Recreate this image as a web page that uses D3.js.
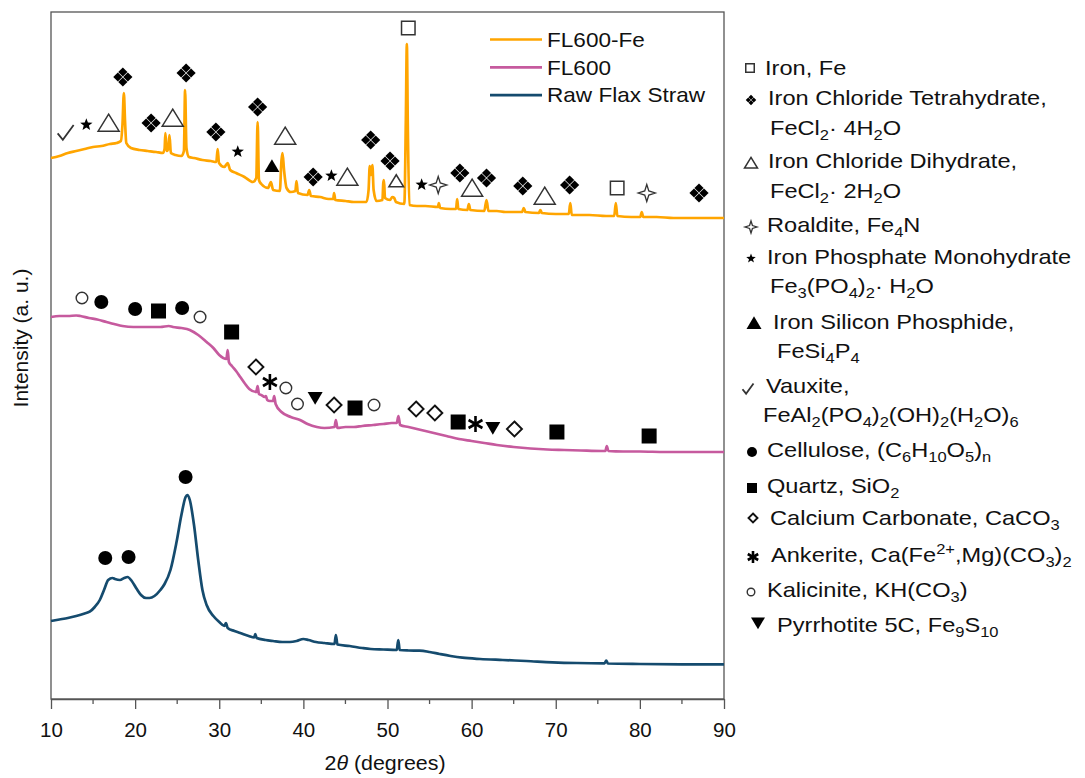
<!DOCTYPE html>
<html>
<head>
<meta charset="utf-8">
<script src="https://cdn.jsdelivr.net/npm/d3@7"></script>
<style>
  body { margin: 0; background: #fff; }
  text { font-family: "Liberation Sans", Arial, sans-serif; fill: #111; }
</style>
</head>
<body>
<div id="chart"></div>
<script>
// ---- data: [2theta, intensity (a.u., stacked)] ----
var fl600Fe = [[10.0,541],[11.0,543],[12.0,546],[13.0,548],[14.0,550],[15.0,552],[16.0,553],[17.0,555],[17.8,556],[18.3,558],[18.5,575],[18.66,606],[18.8,578],[18.95,556],[19.5,551],[20.5,549],[21.5,548],[22.5,547],[23.3,546],[23.5,550],[23.6,566],[23.75,548],[23.95,550],[24.08,564],[24.25,546],[24.8,544],[25.5,543],[25.8,548],[25.94,609],[26.1,551],[26.4,542],[27,541],[28,539],[29,538],[29.65,537],[29.81,550],[29.97,536],[30.6,532],[31.0,536],[31.3,529],[32,526],[33,522],[34.0,517],[34.4,521],[34.56,577],[34.72,519],[35,515],[35.8,511],[36.14,517],[36.4,509],[37.2,508],[37.4,539],[37.52,546],[37.7,529],[38,511],[38.5,507],[39.05,508],[39.18,518],[39.35,506],[40.5,504],[40.69,509],[40.9,503],[42,502],[43,500],[43.55,500],[43.65,506],[43.8,499],[45,498],[46,497],[47.5,497],[47.75,509],[47.89,533],[48.05,524],[48.2,534],[48.35,509],[48.7,498],[49.4,499],[49.5,516],[49.58,519],[49.7,501],[50.3,499],[50.57,502],[50.8,501],[51.0,497],[52.0,495],[52.18,579],[52.3,655],[52.42,569],[52.6,494],[53.5,493],[54.5,493],[56.0,492],[56.1,496],[56.25,491],[57.5,490],[58.15,490],[58.28,500],[58.42,490],[59.5,489],[59.67,495],[59.85,489],[61.5,488],[61.77,499],[62.0,488],[63,488],[64,487],[66.0,487],[66.19,491],[66.4,487],[68.0,486],[68.17,489],[68.35,486],[70,485],[71.55,485],[71.73,496],[71.9,484],[74,484],[76,483],[76.95,483],[77.14,496],[77.32,483],[79,482],[80.05,482],[80.22,487],[80.4,482],[82,482],[84,481],[86,481],[88,481],[90,481]];

var fl600 = [[10.0,382],[11.0,383],[12.0,383],[13.0,383.5],[13.5,383],[14.5,381],[15.5,379.5],[16.6,377],[17.5,375],[18.5,373],[19.8,372],[21,372],[22,372],[23,372],[24.0,373],[24.5,372],[25.5,371],[26.5,369],[27.5,364],[28.5,357],[29.3,351],[30.0,344],[30.85,340],[31.0,349],[31.15,337],[31.5,333],[32.0,328],[32.5,322],[33.0,316],[33.57,310],[34.4,307],[34.56,313],[34.72,305],[35.0,304],[35.4,302],[35.55,303],[35.7,299],[36.0,298],[36.4,298],[36.53,303],[36.7,295],[37.4,287],[38.5,282],[39.6,279],[40.5,275],[41.6,272],[42.5,271],[43.7,272],[43.86,279],[44.05,271],[45,272],[46,272],[47,273],[48.3,274],[49.5,275],[50.5,276],[51.1,276],[51.3,283],[51.5,274],[52.5,272],[54,269],[55.5,266],[57,263],[58.5,260],[60,258],[61.5,256],[63,254],[65,252],[67,250.5],[69,249.5],[71,249],[73,248.5],[75.5,248],[75.9,248],[76.07,253],[76.25,248],[78,247.5],[80,247.5],[83,247],[86,247],[90,247]];

var rawFlax = [[10.0,78],[11.0,79.5],[12.0,81],[13.0,83],[14.0,85.5],[14.6,87.3],[15.2,92],[15.8,99],[16.3,109],[16.8,119],[17.3,121],[17.6,120],[18.2,119],[18.7,121],[19.1,122],[19.6,118],[20.2,110],[20.7,104],[21.3,101],[21.7,101],[22.3,103],[23.0,109],[23.5,115],[24.2,129],[24.9,156],[25.5,184],[26.0,202],[26.2,204],[26.5,199],[27.0,174],[27.5,139],[28.0,109],[28.5,94],[29.3,83],[30.0,77],[30.6,73],[30.8,76],[31.0,71],[31.8,68],[32.5,66],[33.5,63],[34.15,61.5],[34.28,65],[34.45,61],[35.5,59],[36.4,58],[37.5,57],[38.4,57],[39.2,58],[40.0,60],[40.6,59],[41.5,57],[42.5,56],[43.7,55],[43.86,64],[44.05,54.5],[45.5,53],[47,51],[48,50],[49.5,49.5],[51.1,49],[51.28,59],[51.45,49],[52.5,48.5],[53.8,48.3],[55,47],[56.2,45],[57.5,43],[58.9,41.3],[61,40],[63.7,39],[66.5,38],[69.6,36.7],[72.5,36],[75.8,35.7],[76.0,38.3],[76.2,35.5],[80,35],[85,34.7],[90,34.7]];

var seriesNames = ["FL600-Fe", "FL600", "Raw Flax Straw"];
var seriesData = [fl600Fe, fl600, rawFlax];

// phase labels: [2theta, intensity, phase index]
var fl600FeMarks = [[11.74,566,6],[14.2,575,4],[16.85,576,2],[18.54,622,1],[21.9,576,1],[24.47,581,2],[26.06,626,1],[29.6,567,1],[32.2,548,4],[34.56,592,1],[36.26,533,5],[37.84,563,2],[41.16,522,1],[43.33,524,4],[45.23,522,2],[48.0,559,1],[50.3,538,1],[51.04,518,2],[52.47,671,0],[54.06,515,4],[56.03,514,3],[58.6,526,1],[60.06,511,2],[61.77,521,1],[66.08,513,1],[68.69,503,2],[71.65,514,1],[77.3,511,0],[80.82,506,3],[87.03,506,1]];
var fl600Marks = [[13.68,401,11],[15.98,397,7],[20.0,390,7],[22.78,388,8],[25.59,391,7],[27.72,382,11],[31.47,367,8],[34.36,332,9],[36.02,317,10],[37.92,311,11],[39.3,295,11],[41.4,301,12],[43.65,294,9],[46.14,291,8],[48.4,294,11],[53.4,290,9],[55.63,286,9],[58.4,277,8],[60.46,275,10],[62.52,271,12],[65.09,270,9],[70.14,267,8],[81.1,263,8]];
var rawFlaxMarks = [[16.45,141,7],[19.22,142,7],[26.0,222,7]];

var phaseNames = [
  ["Iron, Fe"],
  ["Iron Chloride Tetrahydrate,", "FeCl_{2}\u00b7 4H_{2}O"],
  ["Iron Chloride Dihydrate,", "FeCl_{2}\u00b7 2H_{2}O"],
  ["Roaldite, Fe_{4}N"],
  ["Iron Phosphate Monohydrate", "Fe_{3}(PO_{4})_{2}\u00b7 H_{2}O"],
  ["Iron Silicon Phosphide,", "FeSi_{4}P_{4}"],
  ["Vauxite,", "FeAl_{2}(PO_{4})_{2}(OH)_{2}(H_{2}O)_{6}"],
  ["Cellulose, (C_{6}H_{10}O_{5})_{n}"],
  ["Quartz, SiO_{2}"],
  ["Calcium Carbonate, CaCO_{3}"],
  ["Ankerite, Ca(Fe^{2+},Mg)(CO_{3})_{2}"],
  ["Kalicinite, KH(CO_{3})"],
  ["Pyrrhotite 5C, Fe_{9}S_{10}"]
];

var xTicks = [10, 20, 30, 40, 50, 60, 70, 80, 90];
var xMinorTicks = [15, 25, 35, 45, 55, 65, 75, 85];

// ---- styles / layout ----
var colors = ["#FFA500", "#C65A9E", "#154B6E"];
var phaseSymbols = ["sqOpen","quad","triOpen","sparkle","star","triFill","check","circle","square","diamond","asterisk","circleOpen","triDown"];
var plotSize = {sqOpen:15, quad:20, triOpen:21, sparkle:17, star:13, triFill:15, check:16, circle:14, square:15, diamond:17, asterisk:16, circleOpen:13, triDown:15};
var keySize = {sqOpen:10, quad:11, triOpen:13, sparkle:12, star:10, triFill:15, check:11, circle:10, square:10, diamond:11, asterisk:12, circleOpen:9, triDown:14};

// right-hand key layout (pixels)
var keySymX = [750,751,751,751,751,754,748,752,752,753,753,751,758];
var keySymY = [68,100,163,227,258,323,389,452,488,518,557,592,623];
var keyTextX = [[765],[768,770],[768,770],[767],[767,770],[773,777],[766,763],[767],[767],[770],[771],[767],[777]];
var keyTextY = [[75],[105,135],[168,198],[232],[264,293],[329,358],[393,422],[457],[493],[525],[562],[597],[632]];

var svgWidth = 1085;
var svgHeight = 778;
var margin = {top: 12, right: 361, bottom: 79, left: 51};
var width = svgWidth - margin.left - margin.right;
var height = svgHeight - margin.top - margin.bottom;

var svg = d3.select("#chart")
  .append("svg")
  .attr("width", svgWidth)
  .attr("height", svgHeight);

var chartGroup = svg.append("g")
  .attr("transform", `translate(${margin.left}, ${margin.top})`);

var xScale = d3.scaleLinear().domain([10, 90]).range([0, width]);
var yScale = d3.scaleLinear().domain([0, 687]).range([height, 0]);

// frame
chartGroup.append("rect")
  .attr("width", width)
  .attr("height", height)
  .attr("fill", "none")
  .attr("stroke", "#555")
  .attr("stroke-width", 1.3);

// x axis
var xAxis = chartGroup.append("g")
  .attr("transform", `translate(0, ${height})`)
  .call(d3.axisBottom(xScale).tickValues(xTicks).tickSize(10).tickSizeOuter(0).tickPadding(13));
xAxis.select(".domain").attr("stroke", "#555").attr("stroke-width", 1.3);
xAxis.selectAll(".tick line").attr("stroke", "#555").attr("stroke-width", 1.3);
xAxis.selectAll("text")
  .style("font-size", "20.5px")
  .style("font-family", "'Liberation Sans', Arial, sans-serif")
  .attr("fill", "#111");

chartGroup.append("g")
  .selectAll("line")
  .data(xMinorTicks)
  .enter()
  .append("line")
  .attr("x1", d => xScale(d))
  .attr("x2", d => xScale(d))
  .attr("y1", height)
  .attr("y2", height + 5)
  .attr("stroke", "#555")
  .attr("stroke-width", 1.3);

// spectra
var line = d3.line()
  .x(d => xScale(d[0]))
  .y(d => yScale(d[1]))
  .curve(d3.curveMonotoneX);

seriesData.forEach(function(s, i) {
  chartGroup.append("path")
    .datum(s)
    .attr("d", line)
    .attr("fill", "none")
    .attr("stroke", colors[i])
    .attr("stroke-width", 2.7)
    .attr("stroke-linejoin", "round");
});

// symbol drawing
function drawSymbol(g, kind, s) {
  var h = s / 2;
  if (kind === "sqOpen") {
    g.append("rect").attr("x", -h + 0.75).attr("y", -h + 0.75).attr("width", s - 1.5).attr("height", s - 1.5)
      .attr("fill", "#fff").attr("stroke", "#333").attr("stroke-width", 1.5);
  } else if (kind === "quad") {
    var q = s / 4, r = q * 0.92;
    [[0, -q], [q, 0], [0, q], [-q, 0]].forEach(function(c) {
      g.append("path")
        .attr("d", `M${c[0]},${c[1] - r}L${c[0] + r},${c[1]}L${c[0]},${c[1] + r}L${c[0] - r},${c[1]}Z`)
        .attr("fill", "#000");
    });
  } else if (kind === "triOpen") {
    g.append("path").attr("d", `M0,${-h * 0.85}L${h},${h * 0.78}L${-h},${h * 0.78}Z`)
      .attr("fill", "#fff").attr("stroke", "#333").attr("stroke-width", 1.5).attr("stroke-linejoin", "miter");
  } else if (kind === "triFill") {
    g.append("path").attr("d", `M0,${-h * 0.9}L${h},${h * 0.8}L${-h},${h * 0.8}Z`).attr("fill", "#000");
  } else if (kind === "triDown") {
    g.append("path").attr("d", `M${-h},${-h * 0.8}L${h},${-h * 0.8}L0,${h * 0.9}Z`).attr("fill", "#000");
  } else if (kind === "sparkle") {
    var k = h * 0.24;
    g.append("path").attr("d", `M0,${-h}L${k},${-k}L${h},0L${k},${k}L0,${h}L${-k},${k}L${-h},0L${-k},${-k}Z`)
      .attr("fill", "#fff").attr("stroke", "#333").attr("stroke-width", 1.3);
  } else if (kind === "star") {
    var pts = [];
    for (var j = 0; j < 10; j++) {
      var rr = j % 2 === 0 ? h : h * 0.42;
      var a = -Math.PI / 2 + j * Math.PI / 5;
      pts.push([rr * Math.cos(a), rr * Math.sin(a) + h * 0.1]);
    }
    g.append("path").attr("d", "M" + pts.join("L") + "Z").attr("fill", "#000");
  } else if (kind === "check") {
    g.append("path").attr("d", `M${-h},${h * 0.05}L${-h * 0.35},${h * 0.85}L${h},${-h}`)
      .attr("fill", "none").attr("stroke", "#333").attr("stroke-width", 1.8);
  } else if (kind === "circle") {
    g.append("circle").attr("r", h).attr("fill", "#000");
  } else if (kind === "circleOpen") {
    g.append("circle").attr("r", h - 0.7).attr("fill", "#fff").attr("stroke", "#333").attr("stroke-width", 1.4);
  } else if (kind === "square") {
    g.append("rect").attr("x", -h).attr("y", -h).attr("width", s).attr("height", s).attr("fill", "#000");
  } else if (kind === "diamond") {
    var dd = h - 1;
    g.append("path").attr("d", `M0,${-dd}L${dd},0L0,${dd}L${-dd},0Z`)
      .attr("fill", "#fff").attr("stroke", "#111").attr("stroke-width", 1.9);
  } else if (kind === "asterisk") {
    [90, 30, 150].forEach(function(ang) {
      var rad = ang * Math.PI / 180;
      g.append("line")
        .attr("x1", -h * Math.cos(rad)).attr("y1", -h * Math.sin(rad))
        .attr("x2", h * Math.cos(rad)).attr("y2", h * Math.sin(rad))
        .attr("stroke", "#000").attr("stroke-width", 2.6);
    });
  }
}

// phase markers over the spectra
var smallMark = {"51.04": 0.7};
[fl600FeMarks, fl600Marks, rawFlaxMarks].forEach(function(marks) {
  marks.forEach(function(m) {
    var kind = phaseSymbols[m[2]];
    var g = chartGroup.append("g")
      .attr("transform", `translate(${xScale(m[0])}, ${yScale(m[1])})`);
    drawSymbol(g, kind, plotSize[kind] * (smallMark[m[0]] || 1));
  });
});

// series legend (inside plot)
var legend = svg.append("g");
seriesNames.forEach(function(name, i) {
  var y = 39.5 + i * 27.8;
  legend.append("line")
    .attr("x1", 490).attr("x2", 542)
    .attr("y1", y).attr("y2", y)
    .attr("stroke", colors[i])
    .attr("stroke-width", 2.7);
  legend.append("text")
    .attr("transform", `translate(547, ${y + 7.3}) scale(1.13, 1)`)
    .style("font-size", "20px")
    .text(name);
});

// text with _{sub} and ^{sup}
function richText(sel, str) {
  var re = /([_^])\{([^}]*)\}|([^_^]+)/g;
  var shift = 0, m;
  while ((m = re.exec(str)) !== null) {
    var want = 0, txt = m[3], size = null;
    if (m[1] === "_") { want = 5; txt = m[2]; size = "14px"; }
    if (m[1] === "^") { want = -8; txt = m[2]; size = "14px"; }
    var t = sel.append("tspan").attr("dy", want - shift).text(txt);
    if (size) t.style("font-size", size);
    shift = want;
  }
}

// phase key (right side)
var key = svg.append("g");
phaseNames.forEach(function(lines, i) {
  var g = key.append("g").attr("transform", `translate(${keySymX[i]}, ${keySymY[i]})`);
  drawSymbol(g, phaseSymbols[i], keySize[phaseSymbols[i]]);
  lines.forEach(function(l, j) {
    var t = key.append("text")
      .attr("transform", `translate(${keyTextX[i][j]}, ${keyTextY[i][j]}) scale(1.18, 1)`)
      .style("font-size", "20px");
    richText(t, l);
  });
});

// axis labels
svg.append("text")
  .attr("transform", "translate(28, 338) rotate(-90)")
  .style("text-anchor", "middle")
  .style("font-size", "21px")
  .text("Intensity (a. u.)");

var xl = svg.append("text")
  .attr("transform", "translate(385, 770) scale(1.07, 1)")
  .style("text-anchor", "middle")
  .style("font-size", "20px");
xl.append("tspan").text("2");
xl.append("tspan").style("font-style", "italic").text("\u03b8");
xl.append("tspan").text(" (degrees)");
</script>
</body>
</html>
